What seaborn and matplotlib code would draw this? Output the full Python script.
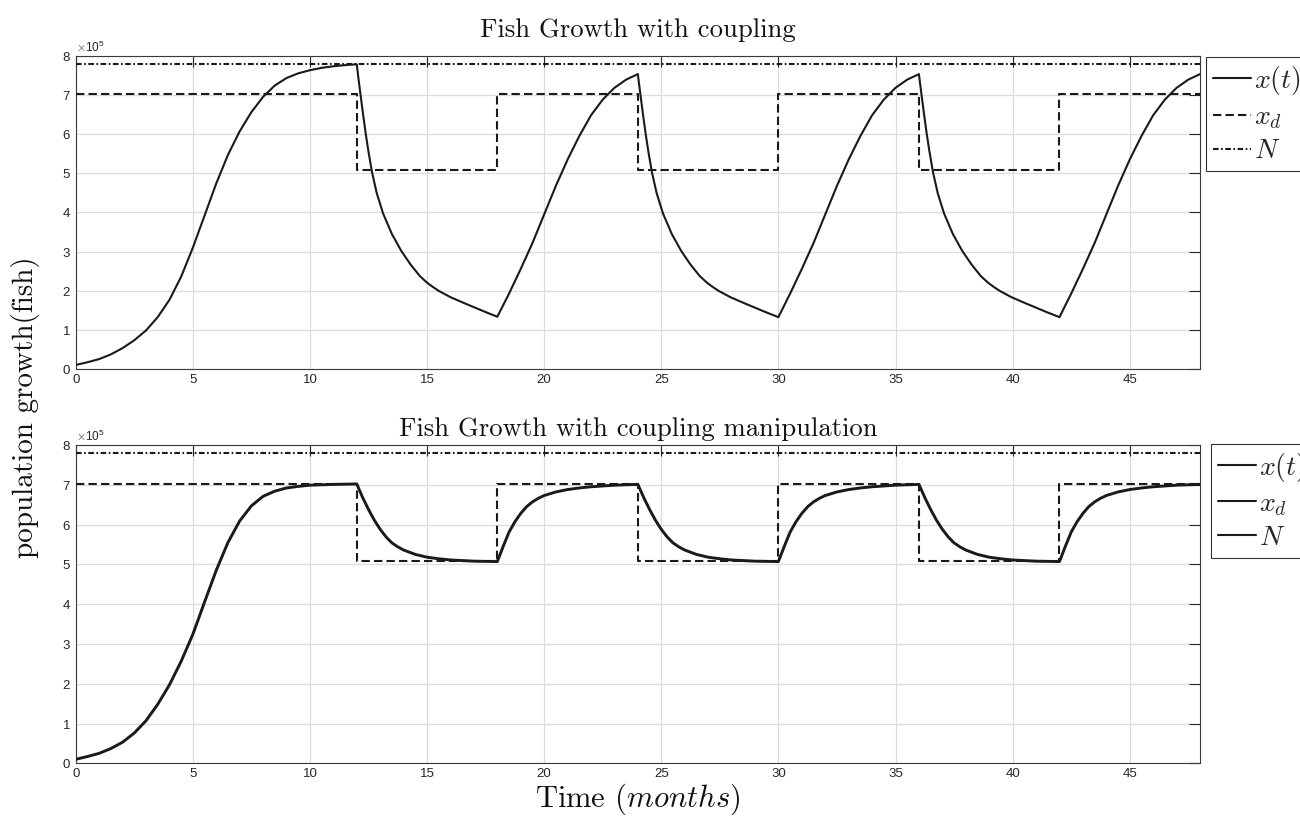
import matplotlib
matplotlib.use("Agg")
import numpy as np
import pandas as pd
import seaborn as sns
import matplotlib.pyplot as plt
from matplotlib.lines import Line2D
from matplotlib.ticker import MultipleLocator

SCALE = 1e5  # values below are in units of 10^5 fish

# ---------------- top panel: "Fish Growth with coupling" ----------------
top_rise_t = [0, 0.5, 1, 1.5, 2, 2.5, 3, 3.5, 4, 4.5, 5, 5.5, 6, 6.5, 7, 7.5, 8, 8.5, 9, 9.5, 10,
              10.5, 11, 11.5, 12]
top_rise_v = [0.11, 0.18, 0.26, 0.38, 0.54, 0.74, 0.99, 1.33, 1.77, 2.36, 3.10, 3.92, 4.74, 5.47, 6.07,
              6.56, 6.95, 7.24, 7.43, 7.55, 7.63, 7.69, 7.73, 7.76, 7.78]
top_fall1_start = 12
top_fall1_dt = [0, 0.08, 0.17, 0.27, 0.38, 0.5, 0.65, 0.85, 1.12, 1.5, 1.9, 2.3, 2.69, 3.0, 3.25, 3.5,
                3.75, 4.0, 4.5, 5.0, 5.5, 6.0]
top_fall1_v = [7.78, 7.38, 6.96, 6.5, 6.02, 5.55, 5.03, 4.5, 3.98, 3.45, 3.02, 2.67, 2.38, 2.21, 2.10, 2.0,
               1.92, 1.84, 1.71, 1.585, 1.46, 1.34]
top_fall_starts = [24, 36]
top_fall_dt = [0, 0.03, 0.12, 0.22, 0.33, 0.45, 0.6, 0.8, 1.07, 1.45, 1.85, 2.25, 2.64, 2.95, 3.2, 3.45,
               3.7, 3.95, 4.45, 4.95, 5.45, 6.0]
top_fall_v = [7.53, 7.38, 6.96, 6.5, 6.02, 5.55, 5.03, 4.5, 3.98, 3.45, 3.02, 2.67, 2.38, 2.21, 2.10, 2.0,
              1.92, 1.84, 1.71, 1.585, 1.46, 1.33]
top_grow_starts = [18, 30, 42]
top_grow_dt = [0, 0.5, 1.0, 1.5, 2.0, 2.5, 3.0, 3.5, 4.0, 4.5, 5.0, 5.5, 6.0]
top_grow_v = [1.34, 1.93, 2.56, 3.22, 3.95, 4.68, 5.35, 5.95, 6.48, 6.88, 7.18, 7.39, 7.53]

# ---------------- bottom panel: "Fish Growth with coupling manipulation" ----------------
bot_rise_t = [0, 0.5, 1, 1.5, 2, 2.5, 3, 3.5, 4, 4.5, 5, 5.5, 6, 6.5, 7, 7.5, 8, 8.5, 9, 9.5, 10,
              11, 12]
bot_rise_v = [0.10, 0.17, 0.25, 0.37, 0.53, 0.76, 1.07, 1.48, 1.97, 2.56, 3.24, 4.05, 4.85, 5.55, 6.09,
              6.47, 6.71, 6.84, 6.92, 6.96, 6.99, 7.01, 7.02]
bot_fall_starts = [12, 24, 36]
bot_fall_dt = [0, 0.25, 0.5, 0.75, 1.0, 1.25, 1.5, 1.75, 2.0, 2.5, 3.0, 3.5, 4.0, 5.0, 6.0]
bot_fall_v = [7.02, 6.68, 6.38, 6.11, 5.88, 5.69, 5.54, 5.44, 5.36, 5.25, 5.18, 5.14, 5.11, 5.08, 5.07]
bot_grow_starts = [18, 30, 42]
bot_grow_dt = [0, 0.25, 0.5, 0.75, 1.0, 1.25, 1.5, 1.75, 2.0, 2.5, 3.0, 3.5, 4.0, 5.0, 6.0]
bot_grow_v = [5.07, 5.45, 5.81, 6.07, 6.28, 6.45, 6.57, 6.66, 6.73, 6.82, 6.88, 6.92, 6.95, 6.99, 7.01]

# desired population (step) and carrying capacity
xd_t = [0, 12, 18, 24, 30, 36, 42, 48]
xd_v = [7.02, 5.08, 7.02, 5.08, 7.02, 5.08, 7.02, 7.02]
N_t = [0, 48]
N_v = [7.8, 7.8]

x_ticks = [0, 5, 10, 15, 20, 25, 30, 35, 40, 45]
titles = ["Fish Growth with coupling", "Fish Growth with coupling manipulation"]
legend_labels = [r"$x(t)$", r"$x_d$", r"$N$"]


def assemble(rise_t, rise_v, segments):
    t = list(rise_t)
    v = list(rise_v)
    for start, dts, vals in sorted(segments, key=lambda s: s[0]):
        t += [start + d for d in dts[1:]]
        v += vals[1:]
    return pd.DataFrame({"t": t, "x": np.array(v) * SCALE})


top_segments = [(top_fall1_start, top_fall1_dt, top_fall1_v)]
top_segments += [(s, top_fall_dt, top_fall_v) for s in top_fall_starts]
top_segments += [(s, top_grow_dt, top_grow_v) for s in top_grow_starts]
top_df = assemble(top_rise_t, top_rise_v, top_segments)

bot_segments = [(s, bot_fall_dt, bot_fall_v) for s in bot_fall_starts]
bot_segments += [(s, bot_grow_dt, bot_grow_v) for s in bot_grow_starts]
bot_df = assemble(bot_rise_t, bot_rise_v, bot_segments)

xd_df = pd.DataFrame({"t": xd_t, "x": np.array(xd_v) * SCALE})
N_df = pd.DataFrame({"t": N_t, "x": np.array(N_v) * SCALE})

sns.set_theme(style="white")
plt.rcParams["mathtext.fontset"] = "cm"
plt.rcParams["font.family"] = ["Liberation Sans", "DejaVu Sans"]

fig = plt.figure(figsize=(13, 8.17), dpi=100)
ax_top = fig.add_axes([0.05823, 0.54798, 0.86485, 0.38385])
ax_bot = fig.add_axes([0.05823, 0.06573, 0.86485, 0.38960])

DASHED = (0, (4, 2))
DASHDOT = (0, (2.7, 1.2, 0.8, 1.2))

for ax, df, lw_x, ttl, pad in [(ax_top, top_df, 1.5, titles[0], 13.5),
                               (ax_bot, bot_df, 2.1, titles[1], 6.5)]:
    sns.lineplot(data=xd_df, x="t", y="x", ax=ax, color="k", lw=1.5, linestyle=DASHED,
                 drawstyle="steps-post", estimator=None, sort=False, zorder=3)
    sns.lineplot(data=N_df, x="t", y="x", ax=ax, color="k", lw=1.5, linestyle=DASHDOT,
                 estimator=None, sort=False, zorder=3)
    sns.lineplot(data=df, x="t", y="x", ax=ax, color="k", lw=lw_x,
                 estimator=None, sort=False, zorder=4)
    ax.set_xlim(0, 48)
    ax.set_ylim(0, 8 * SCALE)
    ax.set_xticks(x_ticks)
    ax.yaxis.set_major_locator(MultipleLocator(SCALE))
    ax.ticklabel_format(axis="y", style="sci", scilimits=(5, 5), useMathText=True)
    ax.yaxis.get_offset_text().set_fontsize(8.5)
    ax.yaxis.get_offset_text().set_color("#262626")
    ax.grid(True, color="#dcdcdc", lw=0.9)
    ax.set_axisbelow(True)
    ax.tick_params(direction="in", top=True, right=True, length=8, width=0.8,
                   color="#262626", labelcolor="#262626", labelsize=9.5, pad=3.5)
    for sp in ax.spines.values():
        sp.set_color("#3a3a3a")
        sp.set_linewidth(0.8)
    ax.set_xlabel("")
    ax.set_ylabel("")
    ax.set_title(ttl, fontfamily="cmr10", fontsize=19.2, pad=pad, color="#111111")

# legends
top_handles = [Line2D([], [], color="k", lw=1.5, linestyle="-"),
               Line2D([], [], color="k", lw=1.5, linestyle=DASHED),
               Line2D([], [], color="k", lw=1.5, linestyle=DASHDOT)]
bot_handles = [Line2D([], [], color="k", lw=1.5, linestyle="-") for _ in range(3)]

for ax, handles, anchor in [(ax_top, top_handles, (1.0053, 0.995)),
                            (ax_bot, bot_handles, (1.0098, 1.003))]:
    leg = ax.legend(handles, legend_labels, loc="upper left", bbox_to_anchor=anchor,
                    borderaxespad=0, fontsize=20, frameon=True, fancybox=False,
                    edgecolor="#333333", framealpha=1, handlelength=1.37,
                    handletextpad=0.1, borderpad=0.25, labelspacing=0.26)
    leg.get_frame().set_linewidth(0.8)

ax_bot.set_xlabel(r"Time ($months$)", fontfamily="cmr10", fontsize=22, labelpad=1, color="#111111")
fig.text(0.0195, 0.502, "population growth(fish)", rotation=90, ha="center", va="center",
         fontfamily="cmr10", fontsize=21, color="#111111")

fig.savefig("out.png", dpi=100)
